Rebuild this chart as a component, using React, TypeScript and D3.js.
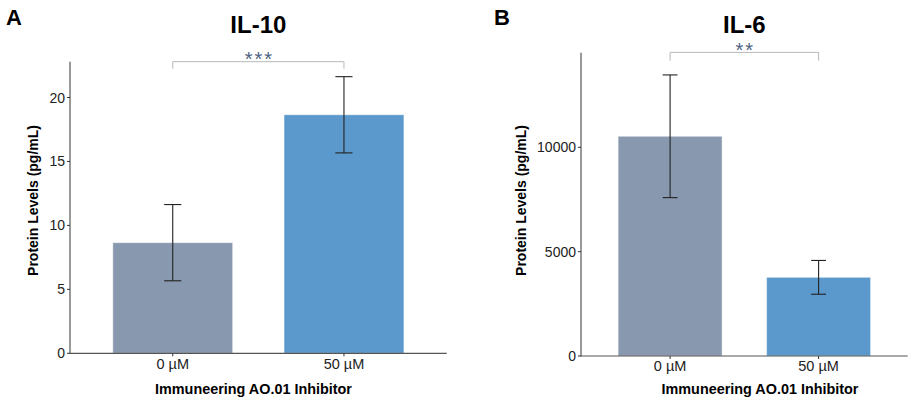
import React from "react";
import * as d3 from "d3";

const categories = ["0 µM", "50 µM"];
const il10Means = [8.65, 18.65];
const il10Errors = [2.98, 2.98];
const il10Ticks = [0, 5, 10, 15, 20];
const il6Means = [10530, 3770];
const il6Errors = [2940, 810];
const il6Ticks = [0, 5000, 10000];
const barColors = ["#8898ae", "#5b98cb"];

const FONT = "'Liberation Sans', Arial, Helvetica, sans-serif";

type PanelProps = {
  letter: string;
  letterX: number;
  title: string;
  means: number[];
  errors: number[];
  ticks: number[];
  yMax: number;
  left: number;
  right: number;
  top: number;
  bottom: number;
  bracketY: number;
  bracketDrop: number;
  stars: string;
  starsY: number;
  yLabelX: number;
  xLabelX: number;
  xTickBaseline: number;
};

function Panel(p: PanelProps) {
  const x = d3
    .scaleLinear()
    .domain([0.4, categories.length + 0.6])
    .range([p.left, p.right]);
  const y = d3.scaleLinear().domain([0, p.yMax]).range([p.bottom, p.top]);
  const barW = x(1.35) - x(0.65);
  const capW = x(1.05) - x(0.95);
  const cx = (i: number) => x(i + 1);
  const plotMid = (p.left + p.right) / 2;
  return (
    <g>
      <text x={p.letterX} y={25} fontSize={22} fontWeight="bold" fontFamily={FONT} fill="#000">
        {p.letter}
      </text>
      <text x={plotMid} y={33} fontSize={24} fontWeight="bold" fontFamily={FONT} textAnchor="middle" fill="#000">
        {p.title}
      </text>
      {p.means.map((m, i) => (
        <rect
          key={"b" + i}
          x={cx(i) - barW / 2}
          y={y(m)}
          width={barW}
          height={y(0) - y(m)}
          fill={barColors[i]}
          stroke="rgba(255,255,255,0.45)"
          strokeWidth={1}
        />
      ))}
      {p.means.map((m, i) => {
        const hi = y(m + p.errors[i]);
        const lo = y(m - p.errors[i]);
        return (
          <g key={"e" + i} stroke="#222" strokeWidth={1.1}>
            <line x1={cx(i)} x2={cx(i)} y1={hi} y2={lo} />
            <line x1={cx(i) - capW / 2} x2={cx(i) + capW / 2} y1={hi} y2={hi} />
            <line x1={cx(i) - capW / 2} x2={cx(i) + capW / 2} y1={lo} y2={lo} />
          </g>
        );
      })}
      {/* axes */}
      <line x1={p.left} x2={p.left} y1={p.top} y2={p.bottom + 0.5} stroke="#555" strokeWidth={1.2} />
      <line x1={p.left} x2={p.right} y1={p.bottom} y2={p.bottom} stroke="#555" strokeWidth={1.2} />
      {p.ticks.map((t) => (
        <g key={"t" + t}>
          <line x1={p.left - 3} x2={p.left} y1={y(t)} y2={y(t)} stroke="#333" strokeWidth={1} />
          <text x={p.left - 5} y={y(t) + 5} fontSize={14} fontFamily={FONT} textAnchor="end" fill="#222">
            {t}
          </text>
        </g>
      ))}
      {categories.map((c, i) => (
        <g key={"c" + i}>
          <line x1={cx(i)} x2={cx(i)} y1={p.bottom} y2={p.bottom + 3} stroke="#333" strokeWidth={1} />
          <text x={cx(i)} y={p.xTickBaseline} fontSize={14.5} fontFamily={FONT} textAnchor="middle" fill="#222">
            {c}
          </text>
        </g>
      ))}
      {/* bracket */}
      <path
        d={`M${cx(0)},${y(p.bracketY - p.bracketDrop)}V${y(p.bracketY)}H${cx(1)}V${y(p.bracketY - p.bracketDrop)}`}
        fill="none"
        stroke="#b8b8b8"
        strokeWidth={1}
      />
      <text
        x={(cx(0) + cx(1)) / 2 + 1}
        y={p.starsY}
        fontSize={20}
        fontFamily={FONT}
        textAnchor="middle"
        fill="#4e6282"
        letterSpacing={2}
      >
        {p.stars}
      </text>
      <text
        transform={`translate(${p.yLabelX},200.5) rotate(-90)`}
        fontSize={14}
        fontWeight="bold"
        fontFamily={FONT}
        textAnchor="middle"
        fill="#000"
      >
        Protein Levels (pg/mL)
      </text>
      <text x={p.xLabelX} y={394} fontSize={14.4} fontWeight="bold" fontFamily={FONT} textAnchor="middle" fill="#000">
        Immuneering AO.01 Inhibitor
      </text>
    </g>
  );
}

export default function App() {
  return (
    <div style={{ position: "absolute", left: 0, top: 0 }}>
      <svg width={912} height={404} style={{ display: "block", background: "#fff" }}>
        <Panel
          letter="A"
          letterX={6}
          title="IL-10"
          means={il10Means}
          errors={il10Errors}
          ticks={il10Ticks}
          yMax={22.8}
          left={70}
          right={446.7}
          top={61.7}
          bottom={353.3}
          bracketY={22.8}
          bracketDrop={0.55}
          stars="***"
          starsY={65.5}
          yLabelX={38}
          xLabelX={253.5}
          xTickBaseline={369}
        />
        <Panel
          letter="B"
          letterX={494}
          title="IL-6"
          means={il6Means}
          errors={il6Errors}
          ticks={il6Ticks}
          yMax={14535}
          left={581}
          right={907.7}
          top={52.7}
          bottom={356}
          bracketY={14550}
          bracketDrop={400}
          stars="**"
          starsY={57}
          yLabelX={526}
          xLabelX={760}
          xTickBaseline={371}
        />
      </svg>
    </div>
  );
}
